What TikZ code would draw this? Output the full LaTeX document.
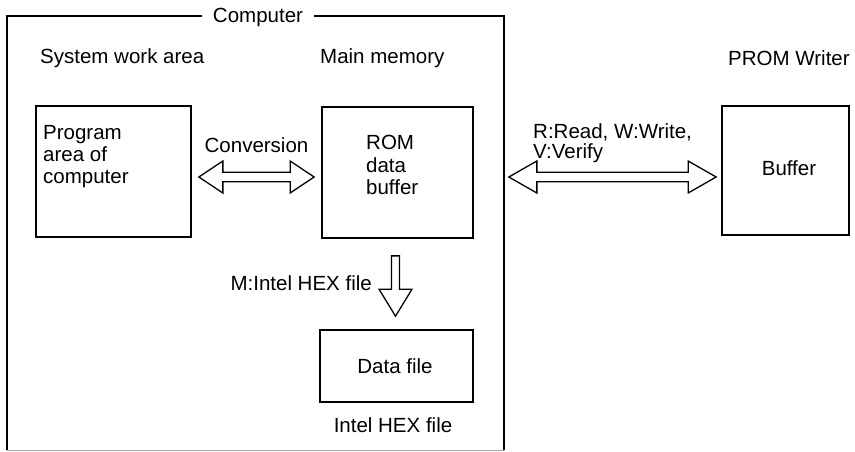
\documentclass[tikz,border=0pt]{standalone}
\usepackage{fontspec}
\setmainfont{Liberation Sans}
\usetikzlibrary{calc, positioning}

\tikzset{
  box/.style={draw, line width=1.7pt, inner sep=0pt},
  txt/.style={font=\fontsize{20.5}{21.8}\selectfont, inner sep=0pt, align=left},
  fat/.style={draw, line width=1.3pt, fill=white, line join=miter},
}

% hollow two-headed arrow, left to right
\newcommand{\dblfat}[3]{%
  \draw[fat] let \p1=(#1), \p2=(#2) in
    (\x1,\y1) -- (\x1+#3,\y1+16pt) -- (\x1+#3,\y1+4.8pt) -- (\x2-#3,\y1+4.8pt)
    -- (\x2-#3,\y1+16pt) -- (\x2,\y1) -- (\x2-#3,\y1-16pt) -- (\x2-#3,\y1-4.8pt)
    -- (\x1+#3,\y1-4.8pt) -- (\x1+#3,\y1-16pt) -- cycle;}
% hollow arrow, downwards
\newcommand{\downfat}[2]{%
  \draw[fat] let \p1=(#1), \p2=(#2) in
    (\x1-4pt,\y1) -- (\x1+4pt,\y1) -- (\x1+4pt,\y2+27pt) -- (\x1+16.5pt,\y2+27pt)
    -- (\x1,\y2) -- (\x1-16.5pt,\y2+27pt) -- (\x1-4pt,\y2+27pt) -- cycle;}

\begin{document}
\begin{tikzpicture}[x=1pt, y=-1pt]
  \useasboundingbox (0,0) rectangle (855,451);

  % --- computer frame ---
  \node[inner sep=0pt, minimum width=497pt, minimum height=434pt] (pc) at (255.5,233) {};
  \draw[line width=1.7pt] (pc.south west) -- (pc.north west) -- (pc.north east) -- (pc.south east);
  \draw[black!35, line width=0.8pt] (pc.south west) -- (pc.south east);
  \node[txt, fill=white, inner xsep=11pt, inner ysep=2pt, anchor=base] (pclbl) at (258,22) {Computer};

  \node[txt, anchor=base west] (swa) at (40,63) {System work area};
  \node[txt, anchor=base west] (mm) at (320,63) {Main memory};

  % --- boxes ---
  \node[box, minimum width=155pt, minimum height=131pt] (prog) at (113.5,171.5) {};
  \node[txt, anchor=north west] (progtxt) at (43,125.5) {Program\\area of\\computer};

  \node[box, minimum width=151pt, minimum height=131pt] (rom) at (397.5,172.5) {};
  \node[txt, anchor=north west, font=\fontsize{20.5}{22.5}\selectfont] (romtxt) at (366,135) {ROM\\data\\buffer};

  \node[box, minimum width=153pt, minimum height=72pt] (data) at (396.5,366) {};
  \node[txt, anchor=base] (datatxt) at (395,373) {Data file};
  \node[txt, anchor=base] (hex) at (393,432) {Intel HEX file};

  % --- PROM writer ---
  \node[txt, anchor=base west] (pw) at (728,65) {PROM Writer};
  \node[box, minimum width=127pt, minimum height=129pt] (buf) at (785.5,170.5) {};
  \node[txt, anchor=base] (buftxt) at (789,175) {Buffer};

  % --- arrows ---
  \coordinate (cv1) at ($(prog.east)+(7,5.5)$);
  \coordinate (cv2) at ($(rom.west |- cv1)+(-7,0)$);
  \dblfat{cv1}{cv2}{24pt}
  \node[txt, anchor=base] (conv) at (256.5,152) {Conversion};

  \coordinate (rw1) at ($(rom.east |- cv1)+(35,0)$);
  \coordinate (rw2) at ($(buf.west |- cv1)+(-5,0)$);
  \dblfat{rw1}{rw2}{28pt}
  \node[txt, anchor=north west, font=\fontsize{20.5}{20}\selectfont] (rwv) at (533,123) {R:Read, W:Write,\\V:Verify};

  \coordinate (m1) at ($(rom.south)+(-2,17)$);
  \coordinate (m2) at ($(data.north)+(-1,-13)$);
  \downfat{m1}{m2}
  \node[txt, anchor=base east] (mhex) at (372,290) {M:Intel HEX file};
\end{tikzpicture}
\end{document}
